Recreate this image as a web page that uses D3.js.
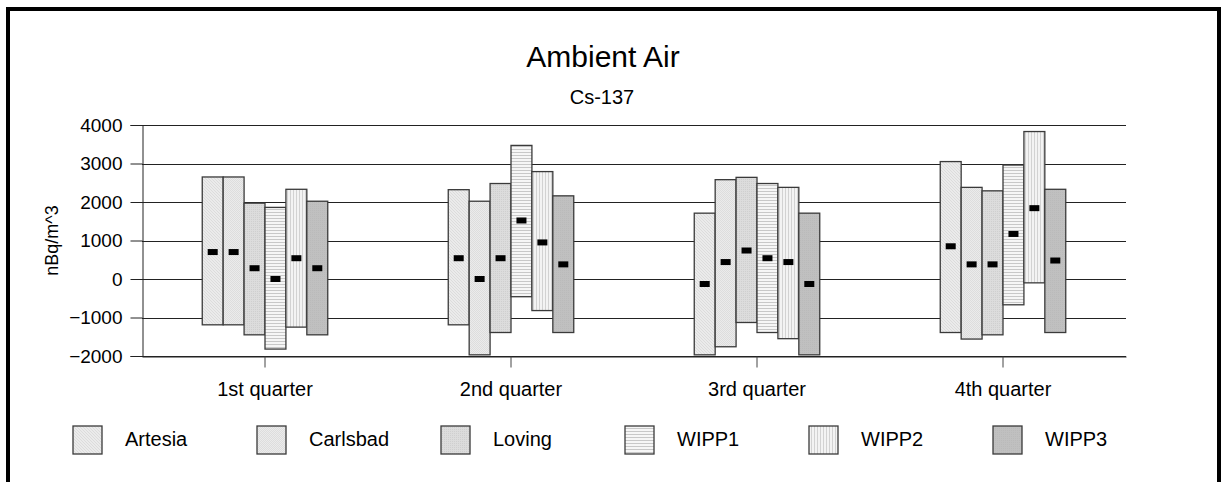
<!DOCTYPE html>
<html>
<head>
<meta charset="utf-8">
<title>Ambient Air - Cs-137</title>
<script src="https://cdn.jsdelivr.net/npm/d3@7"></script>
<style>
  html, body { margin: 0; padding: 0; background: #fff; }
  svg { display: block; font-family: "Liberation Sans", Arial, sans-serif; }
</style>
</head>
<body>
<div id="chart"></div>
<script>
// --- Data ---
const categories = ['1st quarter', '2nd quarter', '3rd quarter', '4th quarter'];
const sites = ['Artesia', 'Carlsbad', 'Loving', 'WIPP1', 'WIPP2', 'WIPP3'];

// one row per site, one value per quarter
const highValues = [
  [2650, 2320, 1710, 3050],
  [2650, 2020, 2580, 2380],
  [1970, 2480, 2640, 2290],
  [1860, 3470, 2480, 2960],
  [2330, 2790, 2380, 3830],
  [2020, 2160, 1710, 2330],
];
const lowValues = [
  [-1190, -1190, -1970, -1390],
  [-1190, -1970, -1760, -1560],
  [-1450, -1390, -1130, -1450],
  [-1820, -460, -1390, -670],
  [-1250, -820, -1550, -100],
  [-1450, -1390, -1970, -1390],
];
const resultValues = [
  [700, 540, -130, 850],
  [700, 0, 440, 380],
  [280, 540, 740, 380],
  [0, 1520, 540, 1170],
  [540, 950, 440, 1840],
  [280, 380, -130, 480],
];
const yTicks = [-2000, -1000, 0, 1000, 2000, 3000, 4000];

// --- Layout ---
const WIDTH = 1223;
const HEIGHT = 482;
const PLOT = { left: 142, right: 1126, top: 125, bottom: 356 };
const GROUP_WIDTH = 125.5;
const MARK_W = 10;
const MARK_H = 6;
const LEGEND_X = 73;
const LEGEND_STEP = 184;

const svg = d3.select('#chart')
  .append('svg')
  .attr('width', WIDTH)
  .attr('height', HEIGHT);

// Fill patterns, one per site
const defs = svg.append('defs');

function addPattern(id, w, h, base, draw) {
  const p = defs.append('pattern')
    .attr('id', id)
    .attr('patternUnits', 'userSpaceOnUse')
    .attr('width', w)
    .attr('height', h);
  p.append('rect').attr('width', w).attr('height', h).attr('fill', base);
  draw(p);
}

function dot(p, x, y, color) {
  p.append('rect').attr('x', x).attr('y', y).attr('width', 1).attr('height', 1).attr('fill', color);
}

addPattern('pat-artesia', 3, 3, '#ebebeb', p => {
  dot(p, 0, 0, '#dcdcdc');
  dot(p, 1, 1, '#dcdcdc');
  dot(p, 2, 2, '#dcdcdc');
});
addPattern('pat-carlsbad', 2, 2, '#ebebeb', p => {
  dot(p, 0, 0, '#dddddd');
  dot(p, 1, 1, '#dddddd');
});
addPattern('pat-loving', 2, 2, '#dcdcdc', p => {
  dot(p, 1, 1, '#cfcfcf');
});
addPattern('pat-wipp1', 3, 3, '#f6f6f6', p => {
  p.append('rect').attr('x', 0).attr('y', 2).attr('width', 3).attr('height', 1).attr('fill', '#c8c8c8');
});
addPattern('pat-wipp2', 3, 3, '#f3f3f3', p => {
  p.append('rect').attr('x', 2).attr('y', 0).attr('width', 1).attr('height', 3).attr('fill', '#d2d2d2');
});
addPattern('pat-wipp3', 2, 2, '#c0c0c0', p => {
  dot(p, 0, 0, '#bababa');
});

const patternIds = ['pat-artesia', 'pat-carlsbad', 'pat-loving', 'pat-wipp1', 'pat-wipp2', 'pat-wipp3'];
const fillFor = i => `url(#${patternIds[i]})`;

// --- Scales ---
const x0 = d3.scaleBand()
  .domain(categories)
  .range([PLOT.left, PLOT.right]);

const x1 = d3.scaleBand()
  .domain(sites)
  .range([0, GROUP_WIDTH]);

const groupOffset = (x0.bandwidth() - GROUP_WIDTH) / 2;

const y = d3.scaleLinear()
  .domain([-2000, 4000])
  .range([PLOT.bottom, PLOT.top]);

// Outer frame (bottom edge runs off the picture)
svg.append('rect')
  .attr('x', 8)
  .attr('y', 9)
  .attr('width', 1211)
  .attr('height', 600)
  .attr('fill', 'none')
  .attr('stroke', '#000')
  .attr('stroke-width', 4);

// Titles
svg.append('text')
  .attr('x', 603)
  .attr('y', 67)
  .attr('text-anchor', 'middle')
  .attr('font-size', '30px')
  .attr('fill', '#000')
  .text('Ambient Air');

svg.append('text')
  .attr('x', 602)
  .attr('y', 104)
  .attr('text-anchor', 'middle')
  .attr('font-size', '20px')
  .attr('fill', '#000')
  .text('Cs-137');

// Gridlines
svg.append('g')
  .attr('class', 'grid')
  .selectAll('line')
  .data(yTicks)
  .join('line')
  .attr('x1', PLOT.left)
  .attr('x2', PLOT.right)
  .attr('y1', d => Math.round(y(d)) + 0.5)
  .attr('y2', d => Math.round(y(d)) + 0.5)
  .attr('stroke', '#222')
  .attr('stroke-width', 1);

// Y axis
const yAxis = svg.append('g')
  .attr('transform', `translate(${PLOT.left + 0.5},0)`)
  .call(d3.axisLeft(y).tickValues(yTicks).tickSize(12).tickPadding(8).tickFormat(d3.format('d')));

yAxis.select('.domain').attr('stroke', '#222');
yAxis.selectAll('.tick line').attr('stroke', '#222');
yAxis.selectAll('.tick text')
  .attr('font-size', '19px')
  .attr('font-family', '"Liberation Sans", Arial, sans-serif')
  .attr('fill', '#000');

// X axis: ticks at category centres
const xAxis = svg.append('g')
  .attr('transform', `translate(0,${PLOT.bottom + 0.5})`)
  .call(d3.axisBottom(x0).tickSize(11).tickPadding(14).tickSizeOuter(0));

xAxis.select('.domain').attr('stroke', '#222');
xAxis.selectAll('.tick line').attr('stroke', '#444');
xAxis.selectAll('.tick text')
  .attr('font-size', '20px')
  .attr('font-family', '"Liberation Sans", Arial, sans-serif')
  .attr('fill', '#000');

// Y axis label
svg.append('text')
  .attr('transform', `translate(58,${(PLOT.top + PLOT.bottom) / 2}) rotate(-90)`)
  .attr('text-anchor', 'middle')
  .attr('font-size', '18px')
  .attr('fill', '#000')
  .text('nBq/m^3');

// Floating range bars + result markers
const barData = [];
sites.forEach((site, si) => {
  categories.forEach((cat, ci) => {
    barData.push({
      site, si, cat,
      high: highValues[si][ci],
      low: lowValues[si][ci],
      value: resultValues[si][ci],
    });
  });
});

const bars = svg.append('g').attr('class', 'bars');

bars.selectAll('rect.range')
  .data(barData)
  .join('rect')
  .attr('class', 'range')
  .attr('x', d => x0(d.cat) + groupOffset + x1(d.site))
  .attr('y', d => y(d.high))
  .attr('width', x1.bandwidth())
  .attr('height', d => y(d.low) - y(d.high))
  .attr('fill', d => fillFor(d.si))
  .attr('stroke', '#3a3a3a')
  .attr('stroke-width', 1.3);

bars.selectAll('rect.marker')
  .data(barData)
  .join('rect')
  .attr('class', 'marker')
  .attr('x', d => x0(d.cat) + groupOffset + x1(d.site) + x1.bandwidth() / 2 - MARK_W / 2)
  .attr('y', d => y(d.value) - MARK_H / 2)
  .attr('width', MARK_W)
  .attr('height', MARK_H)
  .attr('fill', '#000');

// Legend
const legend = svg.append('g')
  .attr('class', 'legend')
  .selectAll('g')
  .data(sites)
  .join('g')
  .attr('transform', (d, i) => `translate(${LEGEND_X + i * LEGEND_STEP},426)`);

legend.append('rect')
  .attr('width', 29)
  .attr('height', 28)
  .attr('fill', (d, i) => fillFor(i))
  .attr('stroke', '#3a3a3a')
  .attr('stroke-width', 1.3);

legend.append('text')
  .attr('x', 52)
  .attr('y', 20)
  .attr('font-size', '20px')
  .attr('fill', '#000')
  .text(d => d);
</script>
</body>
</html>
